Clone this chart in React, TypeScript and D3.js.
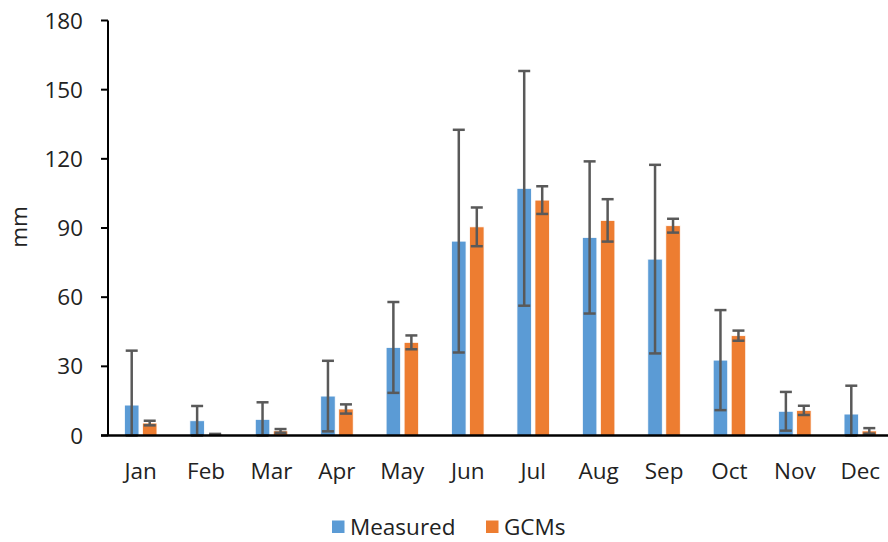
import React from "react";
import * as d3 from "d3";

const months = ["Jan", "Feb", "Mar", "Apr", "May", "Jun", "Jul", "Aug", "Sep", "Oct", "Nov", "Dec"];
const measured = [13.2, 6.4, 7.0, 17.1, 38.2, 84.3, 107.2, 85.9, 76.5, 32.7, 10.5, 9.3];
const measuredErr = [23.6, 6.4, 7.4, 15.3, 19.7, 48.3, 50.9, 33.0, 40.9, 21.7, 8.4, 12.3];
const gcms = [5.4, 0.5, 2.0, 11.5, 40.4, 90.5, 102.1, 93.3, 91.0, 43.3, 10.9, 2.0];
const gcmsErr = [1.0, 0.2, 0.8, 2.0, 3.0, 8.4, 6.0, 9.2, 3.0, 2.2, 2.0, 1.2];
const yTicks = [0, 30, 60, 90, 120, 150, 180];
const seriesNames = ["Measured", "GCMs"];
const colors = ["#5B9BD5", "#ED7D31"];

export default function App() {
  const W = 888, H = 542;
  const left = 108, right = 893, top = 20.5, bottom = 435.5;
  const x = d3.scaleBand<string>().domain(months).range([left, right]);
  const y = d3.scaleLinear().domain([0, 180]).range([bottom, top]);
  const font = "'Open Sans', 'Noto Sans', sans-serif";
  const fs = 22.5;
  const bw = 14.5;
  const series = [
    { vals: measured, errs: measuredErr, off: -9 },
    { vals: gcms, errs: gcmsErr, off: 9 },
  ];
  return (
    <svg width={W} height={H} style={{ position: "absolute", left: 0, top: 0 }} fontFamily={font}>
      <rect width={W} height={H} fill="#fff" />
      {yTicks.map((t) => (
        <g key={t}>
          <line x1={left - 7} x2={left} y1={y(t)} y2={y(t)} stroke="#000" strokeWidth={2} />
          <text x={83} y={y(t)} dy="0.36em" textAnchor="end" fontSize={fs} fill="#222">{t}</text>
        </g>
      ))}
      {series.map((s, si) =>
        months.map((m, i) => {
          const cx = x(m)! + x.bandwidth() / 2 + s.off;
          return (
            <rect key={si + m} x={cx - bw / 2} y={y(s.vals[i])} width={bw}
              height={bottom - y(s.vals[i])} fill={colors[si]} stroke="#fff" strokeWidth={0.8} />
          );
        })
      )}
      {series.map((s, si) =>
        months.map((m, i) => {
          const cx = x(m)! + x.bandwidth() / 2 + s.off;
          const hi = y(s.vals[i] + s.errs[i]);
          const lo = y(Math.max(0, s.vals[i] - s.errs[i]));
          return (
            <g key={"e" + si + m} stroke="#595959" strokeWidth={2.5}>
              <line x1={cx} x2={cx} y1={hi} y2={lo} />
              <line x1={cx - 6} x2={cx + 6} y1={hi} y2={hi} />
              <line x1={cx - 6} x2={cx + 6} y1={lo} y2={lo} />
            </g>
          );
        })
      )}
      <line x1={left} x2={left} y1={top} y2={bottom} stroke="#000" strokeWidth={2} />
      <line x1={left - 7} x2={W} y1={bottom} y2={bottom} stroke="#000" strokeWidth={2.5} />
      {months.map((m) => (
        <text key={m} x={x(m)! + x.bandwidth() / 2} y={479} textAnchor="middle" fontSize={fs} fill="#222">{m}</text>
      ))}
      <text transform="translate(20,227) rotate(-90)" textAnchor="middle" dy="0.3em" fontSize={fs} fill="#222">mm</text>
      {seriesNames.map((n, i) => {
        const lx = [332, 486][i];
        return (
          <g key={n}>
            <rect x={lx} y={520.5} width={12.5} height={12.5} fill={colors[i]} />
            <text x={lx + 18} y={535} fontSize={fs} fill="#222">{n}</text>
          </g>
        );
      })}
    </svg>
  );
}
